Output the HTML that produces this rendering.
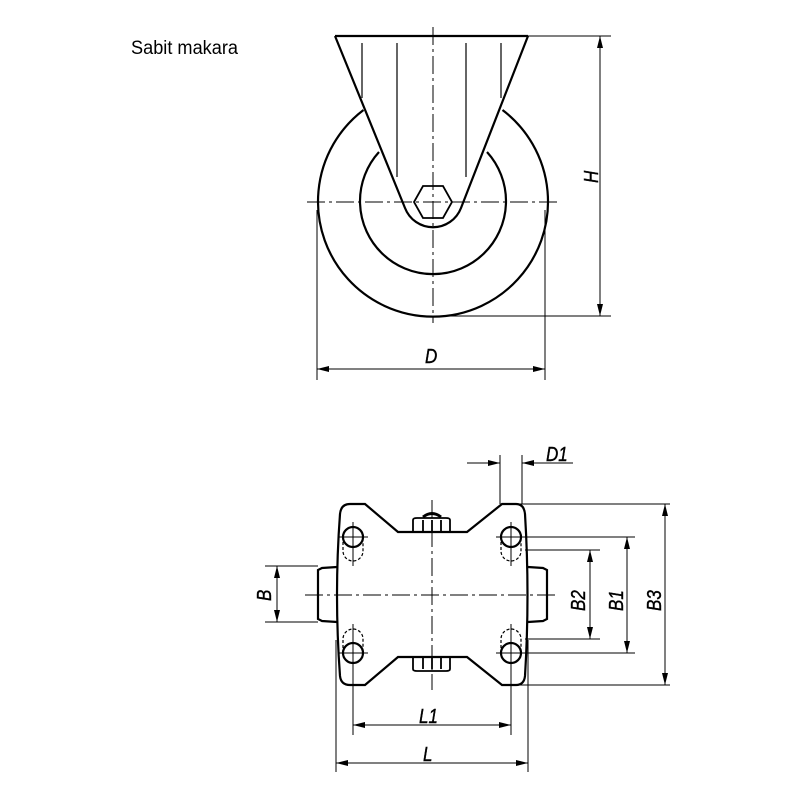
<!DOCTYPE html>
<html><head><meta charset="utf-8"><style>
html,body{margin:0;padding:0;background:#fff;width:800px;height:800px;overflow:hidden}
svg text{font-family:"Liberation Sans",sans-serif;font-style:italic;fill:#000}
.lb{font-size:20px;stroke:#000;stroke-width:0.4}
</style></head><body>
<svg width="800" height="800" viewBox="0 0 800 800" xmlns="http://www.w3.org/2000/svg">
<defs>
<marker id="a" viewBox="0 0 12 6" refX="12" refY="3" markerWidth="12" markerHeight="6" orient="auto-start-reverse" markerUnits="userSpaceOnUse"><path d="M0,0 L12,3 L0,6 z" fill="#000"/></marker>
</defs>
<text x="131" y="54" font-size="19" textLength="107" style="font-style:normal" lengthAdjust="spacingAndGlyphs">Sabit makara</text>

<!-- TOP VIEW -->
<g stroke="#000" fill="none">
<g stroke-width="2.2">
<path d="M363.5,110 A115,115 0 1 0 502.5,110"/>
<path d="M379,152 A73,73 0 1 0 487,152"/>
<path d="M335,36 L528,36"/>
<path d="M335,36 L405,208 A30,30 0 0 0 461,208 L528,36"/>
<path d="M423,186 L443,186 L452,202 L443,218 L423,218 L414,202 Z" stroke-width="1.8"/>
</g>
<g stroke-width="1.2">
<line x1="362" y1="43" x2="362" y2="98"/>
<line x1="397" y1="43" x2="397" y2="177"/>
<line x1="466" y1="43" x2="466" y2="177"/>
<line x1="501" y1="43" x2="501" y2="98"/>
</g>
<g stroke-width="1" stroke-dasharray="18,4,3,4">
<line x1="307" y1="202" x2="558" y2="202"/>
<line x1="433" y1="27" x2="433" y2="323"/>
</g>
<g stroke-width="1">
<line x1="528" y1="36" x2="611" y2="36"/>
<line x1="433" y1="316" x2="611" y2="316"/>
<line x1="600" y1="36" x2="600" y2="316" marker-start="url(#a)" marker-end="url(#a)"/>
<line x1="317" y1="210" x2="317" y2="380"/>
<line x1="545" y1="210" x2="545" y2="380"/>
<line x1="317" y1="369" x2="545" y2="369" marker-start="url(#a)" marker-end="url(#a)"/>
</g>
</g>
<text class="lb" transform="translate(598,183) rotate(-90) scale(0.85,1)">H</text>
<text class="lb" transform="translate(425,363) scale(0.85,1)">D</text>

<!-- BOTTOM VIEW -->
<g stroke="#000" fill="none">
<g stroke-width="2.2">
<path d="M350,504 L365,504 L398,532 L467,532 L502,504 L516,504 Q524,504 525,514 Q530,595 525,676 Q524,685 516,685 L502,685 L467,657 L398,657 L365,685 L350,685 Q341,685 340,676 Q334,595 340,514 Q341,504 350,504 Z"/>
<circle cx="353" cy="537" r="10"/>
<circle cx="511" cy="537" r="10"/>
<circle cx="353" cy="653" r="10"/>
<circle cx="511" cy="653" r="10"/>
<path d="M337,567 L322,568 L318,570 L318,619 L322,621 L337,622"/>
<path d="M528,567 L543,568 L547,570 L547,619 L543,621 L528,622"/>
<path d="M413,532 L413,520 Q413,518 417,518 L446,518 Q450,518 450,520 L450,532 M423,520 L423,532 M432,520 L432,532 M441,520 L441,532" stroke-width="1.8"/>
<path d="M423,517 Q432,510 441,517" stroke-width="3"/>
<path d="M413,657 L413,669 Q413,671 417,671 L446,671 Q450,671 450,669 L450,657 M423,657 L423,669 M432,657 L432,669 M441,657 L441,669" stroke-width="1.8"/>
</g>
<g stroke-width="1.2" stroke-dasharray="3,2">
<path d="M343,537 L343,551 A10,10 0 0 0 363,551 L363,537"/>
<path d="M501,537 L501,551 A10,10 0 0 0 521,551 L521,537"/>
<path d="M343,653 L343,639 A10,10 0 0 1 363,639 L363,653"/>
<path d="M501,653 L501,639 A10,10 0 0 1 521,639 L521,653"/>
</g>
<g stroke-width="1">
<path d="M338,537 H368 M353,522 V566 M496,537 H526 M511,522 V566 M338,653 H368 M353,624 V668 M496,653 H526 M511,624 V668"/>
</g>
<g stroke-width="1" stroke-dasharray="18,4,3,4">
<line x1="305" y1="595" x2="557" y2="595"/>
<line x1="432" y1="500" x2="432" y2="690"/>
</g>
<g stroke-width="1">
<line x1="265" y1="566" x2="318" y2="566"/>
<line x1="265" y1="622" x2="318" y2="622"/>
<line x1="277" y1="566" x2="277" y2="622" marker-start="url(#a)" marker-end="url(#a)"/>
<line x1="525" y1="550" x2="600" y2="550"/>
<line x1="525" y1="639" x2="600" y2="639"/>
<line x1="590" y1="550" x2="590" y2="639" marker-start="url(#a)" marker-end="url(#a)"/>
<line x1="521" y1="537" x2="635" y2="537"/>
<line x1="521" y1="653" x2="635" y2="653"/>
<line x1="627" y1="537" x2="627" y2="653" marker-start="url(#a)" marker-end="url(#a)"/>
<line x1="520" y1="504" x2="670" y2="504"/>
<line x1="520" y1="685" x2="670" y2="685"/>
<line x1="665" y1="504" x2="665" y2="685" marker-start="url(#a)" marker-end="url(#a)"/>
<line x1="500" y1="455" x2="500" y2="504"/>
<line x1="522" y1="455" x2="522" y2="504"/>
<line x1="467" y1="463" x2="500" y2="463" marker-end="url(#a)"/>
<line x1="573" y1="463" x2="522" y2="463" marker-end="url(#a)"/>
<line x1="353" y1="668" x2="353" y2="735"/>
<line x1="511" y1="668" x2="511" y2="735"/>
<line x1="353" y1="725" x2="511" y2="725" marker-start="url(#a)" marker-end="url(#a)"/>
<line x1="336" y1="640" x2="336" y2="772"/>
<line x1="528" y1="640" x2="528" y2="772"/>
<line x1="336" y1="763" x2="528" y2="763" marker-start="url(#a)" marker-end="url(#a)"/>
</g>
</g>
<text class="lb" transform="translate(271,601) rotate(-90) scale(0.85,1)">B</text>
<text class="lb" transform="translate(585,611) rotate(-90) scale(0.85,1)">B2</text>
<text class="lb" transform="translate(623,611) rotate(-90) scale(0.85,1)">B1</text>
<text class="lb" transform="translate(661,611) rotate(-90) scale(0.85,1)">B3</text>
<text class="lb" transform="translate(546,461) scale(0.85,1)">D1</text>
<text class="lb" transform="translate(419,723) scale(0.85,1)">L1</text>
<text class="lb" transform="translate(423,761) scale(0.85,1)">L</text>
</svg>
</body></html>
